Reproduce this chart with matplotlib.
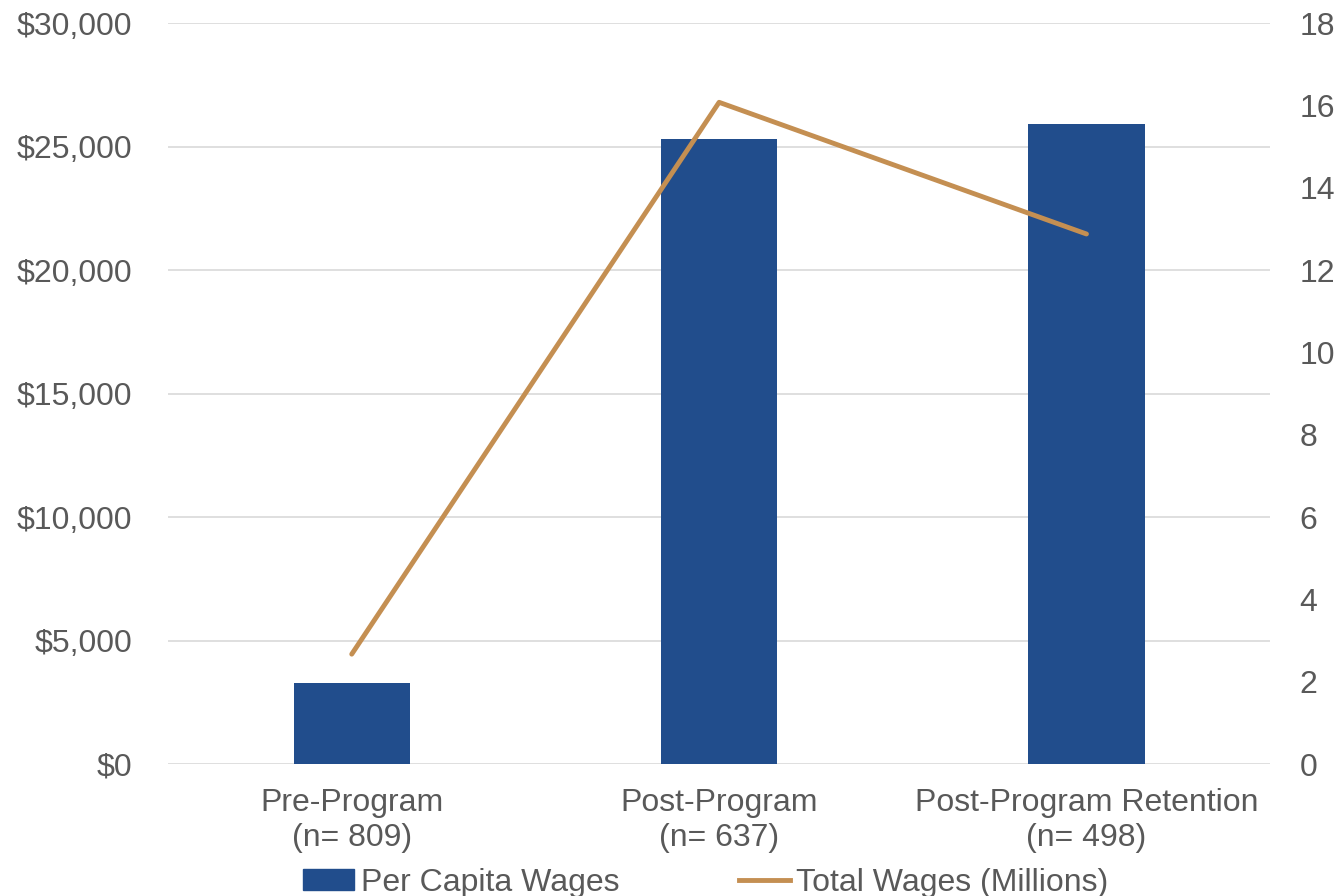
import numpy as np
import matplotlib
matplotlib.use('Agg')
import matplotlib.pyplot as plt
from matplotlib.patches import Patch
from matplotlib.lines import Line2D

categories = ['Pre-Program\n(n= 809)', 'Post-Program\n(n= 637)', 'Post-Program Retention\n(n= 498)']
per_capita = [3270, 25330, 25940]
total_millions = [2.67, 16.08, 12.88]

plt.rcParams['font.family'] = ['Liberation Sans', 'DejaVu Sans']
grey = '#595959'
bar_col = '#214D8C'
line_col = '#C48F52'
fs = 23

fig = plt.figure(figsize=(13.37, 8.96), dpi=100)
ax = fig.add_axes([0.1257, 0.1473, 0.8243, 0.8267])
x = np.arange(len(categories))
ax.bar(x, per_capita, width=0.316, color=bar_col, zorder=3)
ax.set_xlim(-0.5, 2.5)
ax.set_ylim(0, 30000)
ax.set_yticks(np.arange(0, 30001, 5000))
ax.set_yticklabels([f'${v:,.0f}' for v in np.arange(0, 30001, 5000)])
ax.grid(axis='y', color='#D9D9D9', linewidth=1.2, zorder=0)
ax.set_xticks(x)
ax.set_xticklabels(categories, linespacing=1.25)
for s in ax.spines.values():
    s.set_visible(False)
ax.tick_params(axis='both', length=0, labelsize=fs, colors=grey)
ax.tick_params(axis='x', pad=17)
ax.tick_params(axis='y', pad=26)

ax2 = ax.twinx()
ax2.plot(x, total_millions, color=line_col, linewidth=3.5, solid_capstyle='round', zorder=4)
ax2.set_ylim(0, 18)
ax2.set_yticks(np.arange(0, 19, 2))
for s in ax2.spines.values():
    s.set_visible(False)
ax2.tick_params(axis='y', length=0, labelsize=fs, colors=grey, pad=21)

handles = [Patch(color=bar_col, label='Per Capita Wages'),
           Line2D([0], [0], color=line_col, linewidth=3.5, label='Total Wages (Millions)')]
fig.legend(handles=handles, loc='lower center', bbox_to_anchor=(0.528, -0.034), ncol=2,
           frameon=False, fontsize=fs, labelcolor=grey, handlelength=1.6, handleheight=0.6,
           handletextpad=0.2, columnspacing=3.75)

fig.savefig('out.png', dpi=100)
